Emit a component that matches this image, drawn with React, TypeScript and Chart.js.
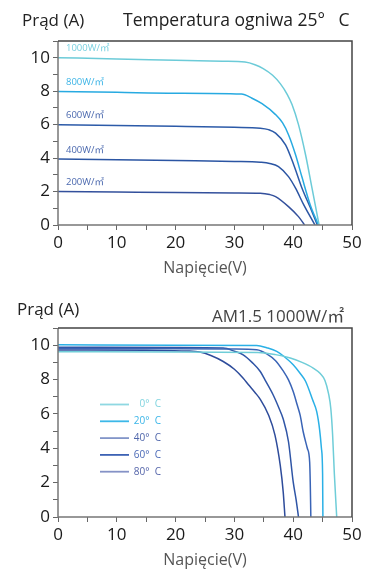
import React, { useEffect, useRef } from 'react';
import { Chart, registerables } from 'chart.js';
Chart.register(...registerables);

const FONT = '"Open Sans", "Noto Sans CJK SC", sans-serif';

// ---------- Top chart: irradiance (cell temperature 25 °C) ----------
const irrNames = ['1000W/㎡', '800W/㎡', '600W/㎡', '400W/㎡', '200W/㎡'];
const irrLineColors = ['#6ccbd8', '#27aae1', '#2c5aa8', '#2b55a3', '#33509c'];
const irrTextColors = ['#78d0e0', '#3cb4e6', '#4a68ae', '#4a68ae', '#4a68ae'];

const v1000 = [0, 10, 20, 28, 31.8, 33.5, 34.9, 36.5, 37.8, 39.0, 39.8, 40.9, 42.1, 43.2, 44.4];
const i1000 = [10, 9.93, 9.85, 9.79, 9.74, 9.58, 9.35, 8.95, 8.45, 7.8, 7.2, 6.0, 4.2, 2.2, 0];
const v800 = [0, 10, 20, 31.2, 33, 34.7, 37.0, 38.2, 39.2, 40.4, 41.5, 42.9, 44.3];
const i800 = [7.98, 7.93, 7.88, 7.83, 7.58, 7.25, 6.6, 6.1, 5.4, 4.2, 2.85, 1.2, 0];
const v600 = [0, 10, 20, 30, 34.4, 35.8, 37.0, 38.7, 40.1, 41.5, 43.2, 44.1];
const i600 = [6.0, 5.95, 5.9, 5.84, 5.79, 5.7, 5.49, 4.79, 3.59, 2.2, 0.8, 0];
const v400 = [0, 10, 20, 30, 34.4, 36, 37.5, 39.2, 40.4, 41.8, 43.7];
const i400 = [3.95, 3.9, 3.85, 3.8, 3.75, 3.68, 3.49, 2.89, 2.2, 1.2, 0];
const v200 = [0, 10, 20, 30, 34.4, 36, 37.0, 39.2, 40.9, 41.95];
const i200 = [2.0, 1.97, 1.94, 1.92, 1.9, 1.82, 1.7, 1.1, 0.5, 0];
const irrV = [v1000, v800, v600, v400, v200];
const irrI = [i1000, i800, i600, i400, i200];

// ---------- Bottom chart: temperature (AM1.5 1000W/m²) ----------
const tempNames = ['0°  C', '20°  C', '40°  C', '60°  C', '80°  C'];
const tempLineColors = ['#6fcdd8', '#2ab0e6', '#3a64b6', '#2f55a6', '#2e4c9b'];
const tempLegendLineColors = ['#8fd8e2', '#3cb8e8', '#8295c8', '#3d62b4', '#8592c6'];
const tempTextColors = ['#80d4df', '#3ab5e8', '#4f66ab', '#4a69b7', '#5565aa'];

const vT0 = [0, 20, 34, 37, 39.5, 41.5, 43.4, 44.6, 45.4, 46.0, 46.4, 46.7, 47.0, 47.4];
const iT0 = [9.62, 9.6, 9.58, 9.45, 9.25, 9.0, 8.67, 8.35, 7.95, 7.2, 6.3, 4.8, 2.5, 0];
const vT20 = [0, 20, 33.8, 35.5, 37.2, 38.6, 40, 41.2, 42.1, 43.3, 44, 44.5, 44.8, 45.0, 45.05];
const iT20 = [10.02, 10.0, 9.98, 9.85, 9.64, 9.3, 8.86, 8.35, 7.9, 6.82, 6.13, 5.06, 4.0, 2.5, 0];
const vT40 = [0, 20, 30, 33.8, 35.5, 37, 38.3, 39.2, 40, 40.7, 41.2, 41.7, 42.4, 42.8, 42.9, 43.0];
const iT40 = [9.8, 9.79, 9.78, 9.74, 9.5, 9.1, 8.5, 7.98, 7.3, 6.5, 5.9, 4.96, 4.0, 3.2, 2.0, 0];
const vT60 = [0, 20, 28.1, 30, 31.5, 33, 34.4, 35.2, 36.6, 37.5, 38.3, 39.2, 40.0, 40.5, 40.9];
const iT60 = [9.88, 9.86, 9.83, 9.65, 9.44, 9.0, 8.47, 7.98, 7.1, 6.4, 5.7, 4.38, 2.04, 1.0, 0];
const vT80 = [0, 15, 22, 24.1, 26, 28.1, 30, 31.5, 32.4, 33.5, 34.4, 35.8, 36.9, 37.8, 38.3, 38.6];
const iT80 = [9.72, 9.7, 9.66, 9.6, 9.4, 9.05, 8.6, 8.08, 7.7, 7.25, 6.85, 5.94, 4.77, 3.0, 1.46, 0];
const tempV = [vT0, vT20, vT40, vT60, vT80];
const tempI = [iT0, iT20, iT40, iT60, iT80];

// ---------- Axes / text ----------
const xMin = 0, xMax = 50, xStep = 5;
const yMin = 0, yMax = 11, yStep = 1;
const yAxisTitle = 'Prąd (A)';
const xAxisTitle = 'Napięcie(V)';
const topTitle = 'Temperatura ogniwa 25°   C';
const bottomTitle = 'AM1.5 1000W/㎡';

function makeDatasets(Vs: number[][], Is: number[][], names: string[], colors: string[]) {
  return Vs.map((V, k) => ({
    label: names[k],
    data: V.map((v, j) => ({ x: v, y: Is[k][j] })),
    borderColor: colors[k],
    borderWidth: 1.5,
    pointRadius: 0,
    fill: false,
    cubicInterpolationMode: 'monotone' as const,
  }));
}

function makeOptions(padTop: number, xHeight: number, titlePadBottom: number) {
  return {
    responsive: false,
    animation: false as const,
    events: [],
    layout: { padding: { top: padTop, right: 27, left: 0, bottom: 0 } },
    plugins: { legend: { display: false }, tooltip: { enabled: false } },
    scales: {
      x: {
        type: 'linear' as const,
        min: xMin,
        max: xMax,
        afterFit: (s: any) => { s.height = xHeight; },
        border: { display: false },
        grid: { drawOnChartArea: false, drawTicks: true, tickLength: 5, color: '#666', tickWidth: 1 },
        ticks: {
          stepSize: xStep,
          autoSkip: false,
          maxRotation: 0,
          padding: 3,
          color: '#1a1a1a',
          font: { family: FONT, size: 17 },
          callback: (v: any) => (Number(v) % 10 === 0 ? String(v) : ''),
        },
        title: {
          display: true,
          text: xAxisTitle,
          color: '#555',
          font: { family: FONT, size: 16 },
          padding: { top: 0, bottom: titlePadBottom },
        },
      },
      y: {
        type: 'linear' as const,
        min: yMin,
        max: yMax,
        afterFit: (s: any) => { s.width = 58; },
        border: { display: false },
        grid: { drawOnChartArea: false, drawTicks: true, tickLength: 5, color: '#666', tickWidth: 1 },
        ticks: {
          stepSize: yStep,
          autoSkip: false,
          padding: 3,
          color: '#1a1a1a',
          font: { family: FONT, size: 17 },
          callback: (v: any) => (Number(v) % 2 === 0 ? String(v) : ''),
        },
      },
    },
  };
}

const framePlugin = {
  id: 'frame',
  afterDraw(chart: any) {
    const { ctx, chartArea: a } = chart;
    ctx.save();
    ctx.lineWidth = 1.5;
    ctx.strokeStyle = '#777';
    ctx.beginPath();
    ctx.moveTo(a.left, a.top);
    ctx.lineTo(a.left, a.bottom);
    ctx.lineTo(a.right, a.bottom);
    ctx.stroke();
    ctx.strokeStyle = '#444';
    ctx.beginPath();
    ctx.moveTo(a.left, a.top);
    ctx.lineTo(a.right, a.top);
    ctx.lineTo(a.right, a.bottom);
    ctx.stroke();
    ctx.restore();
  },
};

function titlesPlugin(items: { text: string; x: number; y: number; color: string; size: number }[]) {
  return {
    id: 'titles',
    afterDraw(chart: any) {
      const ctx = chart.ctx;
      ctx.save();
      ctx.textBaseline = 'alphabetic';
      ctx.textAlign = 'left';
      for (const it of items) {
        ctx.font = `${it.size}px ${FONT}`;
        ctx.fillStyle = it.color;
        ctx.fillText(it.text, it.x, it.y);
      }
      ctx.restore();
    },
  };
}

const seriesLabelPlugin = {
  id: 'seriesLabels',
  afterDraw(chart: any) {
    const { ctx, chartArea: a, scales } = chart;
    ctx.save();
    ctx.font = `9.5px ${FONT}`;
    ctx.textBaseline = 'middle';
    ctx.textAlign = 'left';
    irrNames.forEach((name, k) => {
      const y = scales.y.getPixelForValue(irrI[k][0]) - 9;
      ctx.fillStyle = irrTextColors[k];
      ctx.fillText(name, a.left + 8, y);
    });
    ctx.restore();
  },
};

const tempLegendPlugin = {
  id: 'tempLegend',
  afterDraw(chart: any) {
    const { ctx, chartArea: a } = chart;
    ctx.save();
    ctx.font = `10px ${FONT}`;
    ctx.textBaseline = 'middle';
    ctx.textAlign = 'right';
    tempNames.forEach((name, k) => {
      const y = a.top + 76.5 + k * 16.8;
      ctx.strokeStyle = tempLegendLineColors[k];
      ctx.lineWidth = 1.8;
      ctx.beginPath();
      ctx.moveTo(a.left + 42, y);
      ctx.lineTo(a.left + 71, y);
      ctx.stroke();
      ctx.fillStyle = tempTextColors[k];
      ctx.fillText(name, a.left + 103, y);
    });
    ctx.restore();
  },
};

export default function App() {
  const topRef = useRef<HTMLCanvasElement>(null);
  const botRef = useRef<HTMLCanvasElement>(null);

  useEffect(() => {
    const c1 = new Chart(topRef.current!, {
      type: 'line',
      data: { datasets: makeDatasets(irrV, irrI, irrNames, irrLineColors) as any },
      options: makeOptions(41, 60, 7) as any,
      plugins: [
        framePlugin,
        seriesLabelPlugin,
        titlesPlugin([
          { text: yAxisTitle, x: 22, y: 26, color: '#222', size: 17 },
          { text: topTitle, x: 123, y: 26, color: '#222', size: 17.5 },
        ]),
      ],
    });
    const c2 = new Chart(botRef.current!, {
      type: 'line',
      data: { datasets: makeDatasets(tempV, tempI, tempNames, tempLineColors) as any },
      options: makeOptions(43, 54, 1) as any,
      plugins: [
        framePlugin,
        tempLegendPlugin,
        titlesPlugin([
          { text: yAxisTitle, x: 17, y: 30, color: '#222', size: 17 },
          { text: bottomTitle, x: 212, y: 37, color: '#444', size: 17 },
        ]),
      ],
    });
    return () => {
      c1.destroy();
      c2.destroy();
    };
  }, []);

  return (
    <div style={{ position: 'absolute', left: 0, top: 0, width: 379, height: 571, background: '#fff' }}>
      <canvas ref={topRef} width={379} height={285} style={{ position: 'absolute', left: 0, top: 0, display: 'block' }} />
      <canvas ref={botRef} width={379} height={286} style={{ position: 'absolute', left: 0, top: 285, display: 'block' }} />
    </div>
  );
}
